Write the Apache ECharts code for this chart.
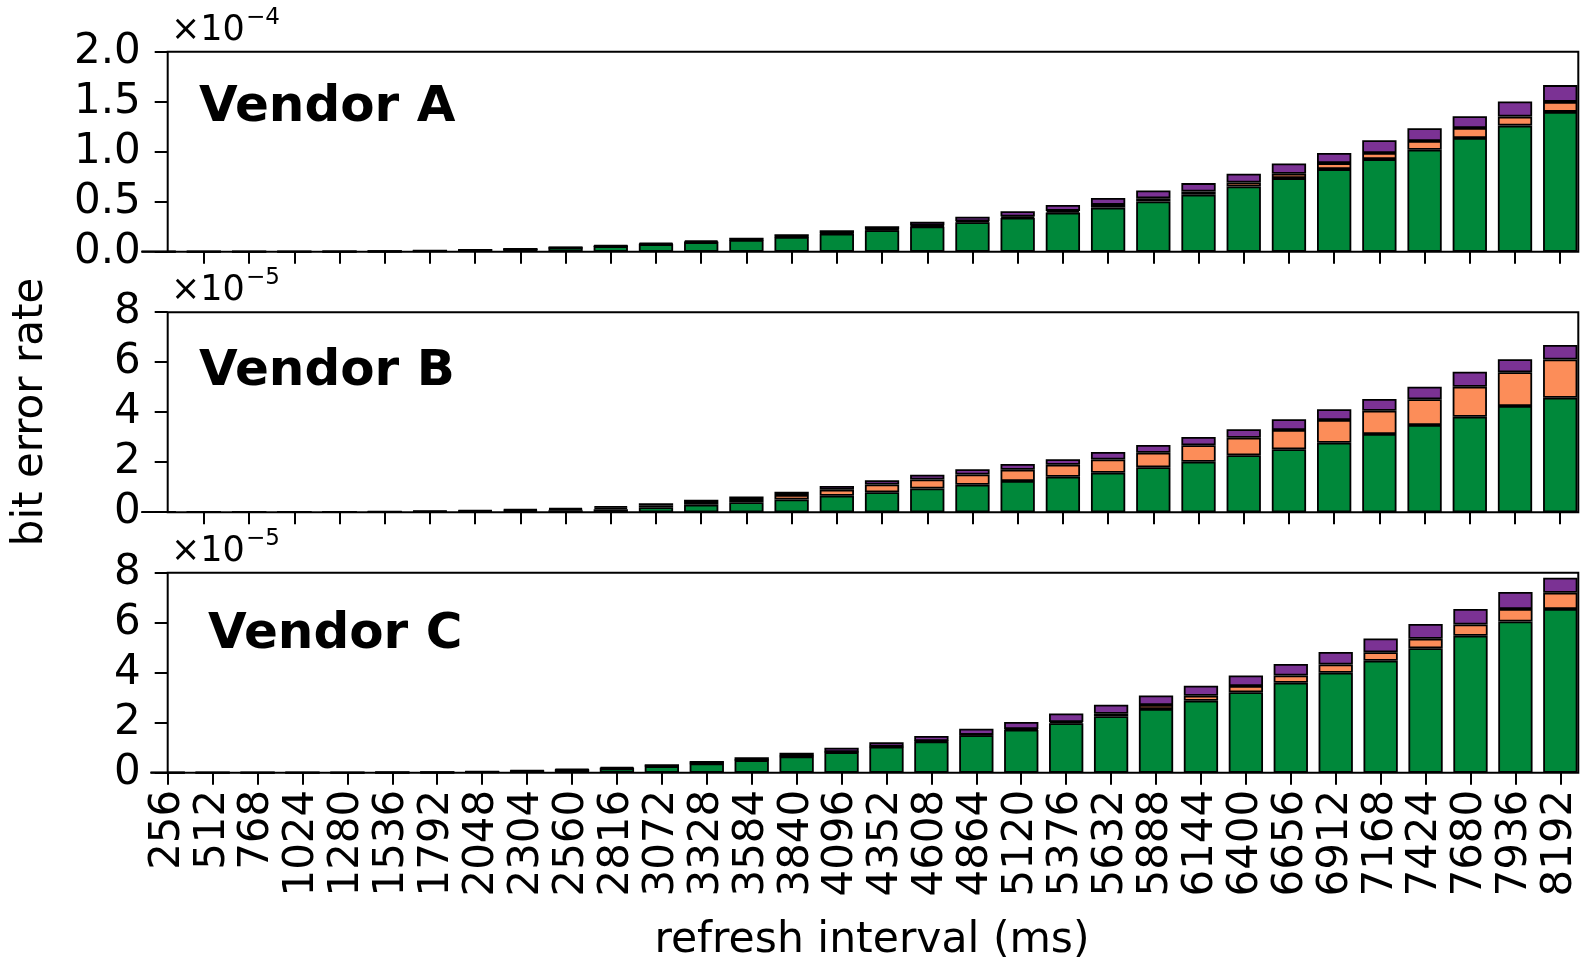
<!DOCTYPE html>
<html>
<head>
<meta charset="utf-8">
<script src="https://cdn.jsdelivr.net/npm/echarts@6/dist/echarts.min.js"></script>
<style>
  html, body { margin: 0; padding: 0; background: #fff; }
  #chart { width: 1583px; height: 961px; }
</style>
</head>
<body>
<div id="chart"></div>
<script>
// Refresh intervals (ms), one bar per interval
const categories = ['256','512','768','1024','1280','1536','1792','2048','2304','2560','2816','3072',
  '3328','3584','3840','4096','4352','4608','4864','5120','5376','5632','5888','6144',
  '6400','6656','6912','7168','7424','7680','7936','8192'];

// Vendor A bit error rate, in units of 1e-4
const vendorA_green  = [0.00003,0.0001,0.0003,0.0007,0.0017,0.0042,0.0085,0.016,0.026,0.040,0.056,0.074,
  0.095,0.118,0.148,0.181,0.215,0.253,0.295,0.340,0.391,0.441,0.502,0.569,0.652,0.736,0.826,0.926,1.020,1.137,1.261,1.398];
const vendorA_orange = [0,0,0,0,0,0.0001,0.0002,0.0004,0.0007,0.001,0.001,0.002,
  0.003,0.003,0.004,0.005,0.006,0.008,0.010,0.012,0.017,0.027,0.033,0.033,0.040,0.043,0.060,0.061,0.087,0.100,0.090,0.100];
const vendorA_purple = [0,0,0,0.0001,0.0003,0.0007,0.0013,0.0026,0.0043,0.006,0.009,0.012,
  0.015,0.019,0.023,0.029,0.034,0.039,0.045,0.053,0.060,0.070,0.077,0.084,0.087,0.104,0.101,0.127,0.127,0.118,0.151,0.168];

// Vendor B bit error rate, in units of 1e-5
const vendorB_green  = [0.001,0.002,0.003,0.005,0.008,0.012,0.02,0.03,0.05,0.08,0.12,0.20,
  0.30,0.40,0.51,0.66,0.80,0.95,1.10,1.25,1.42,1.58,1.80,2.02,2.28,2.52,2.78,3.13,3.49,3.82,4.25,4.58];
const vendorB_orange = [0,0,0.001,0.002,0.003,0.005,0.01,0.02,0.03,0.04,0.06,0.08,
  0.11,0.13,0.18,0.24,0.31,0.36,0.41,0.45,0.48,0.53,0.58,0.66,0.70,0.77,0.91,0.93,1.03,1.20,1.35,1.53];
const vendorB_purple = [0,0.001,0.001,0.002,0.004,0.008,0.02,0.03,0.04,0.05,0.06,0.08,
  0.09,0.10,0.13,0.15,0.17,0.19,0.21,0.23,0.22,0.30,0.31,0.33,0.34,0.43,0.43,0.47,0.50,0.60,0.52,0.58];

// Vendor C bit error rate, in units of 1e-5
const vendorC_green  = [0.0005,0.001,0.002,0.003,0.0035,0.007,0.014,0.032,0.065,0.11,0.17,0.26,
  0.37,0.50,0.65,0.82,1.04,1.25,1.50,1.72,1.98,2.26,2.55,2.88,3.22,3.60,4.00,4.48,4.98,5.48,6.05,6.55];
const vendorC_orange = [0,0,0,0,0,0.0003,0.0005,0.001,0.001,0.002,0.003,0.004,
  0.005,0.005,0.01,0.01,0.01,0.02,0.02,0.03,0.05,0.10,0.16,0.20,0.25,0.29,0.33,0.34,0.38,0.45,0.50,0.65];
const vendorC_purple = [0,0,0,0,0.0005,0.0027,0.0055,0.012,0.024,0.038,0.057,0.076,
  0.095,0.115,0.14,0.17,0.17,0.20,0.24,0.28,0.34,0.36,0.38,0.40,0.42,0.46,0.50,0.55,0.59,0.62,0.68,0.60];

// Panel titles, y tick values and exponent of the axis multiplier
const panelNames = ['Vendor A', 'Vendor B', 'Vendor C'];
const yTicksA = [0, 0.5, 1.0, 1.5, 2.0];
const yTicksBC = [0, 2, 4, 6, 8];
const exponents = ['\u22124', '\u22125', '\u22125'];

const COLORS = { green: '#00883a', orange: '#fc8d59', purple: '#7b3294' };
const FONT = '"DejaVu Sans", sans-serif';

const panels = [
  { name: panelNames[0], green: vendorA_green, orange: vendorA_orange, purple: vendorA_purple, ticks: yTicksA, digits: 1 },
  { name: panelNames[1], green: vendorB_green, orange: vendorB_orange, purple: vendorB_purple, ticks: yTicksBC, digits: 0 },
  { name: panelNames[2], green: vendorC_green, orange: vendorC_orange, purple: vendorC_purple, ticks: yTicksBC, digits: 0 }
];

const GRID_LEFT = 167.7, GRID_WIDTH = 1410.6, GRID_HEIGHT = 200;
const GRID_TOPS = [51.7, 312.2, 572.7];

const allIdx = categories.map((c, i) => i);

const grids = [], xAxes = [], yAxes = [], series = [];
panels.forEach((p, k) => {
  const isBottom = k === panels.length - 1;
  grids.push({
    left: GRID_LEFT, top: GRID_TOPS[k], width: GRID_WIDTH, height: GRID_HEIGHT,
    show: true, borderColor: '#000', borderWidth: 2, backgroundColor: 'transparent'
  });
  const tickVals = isBottom ? allIdx : allIdx.slice(1);
  xAxes.push({
    type: 'value', gridIndex: k,
    min: isBottom ? 0 : 0.2, max: 31.4,
    axisLine: { show: false },
    splitLine: { show: false },
    axisTick: { show: true, length: 12, lineStyle: { color: '#000', width: 2 }, customValues: tickVals },
    axisLabel: {
      show: isBottom, customValues: tickVals, rotate: 90, margin: 17,
      fontSize: 42, fontFamily: FONT, color: '#000',
      formatter: v => categories[Math.round(v)]
    }
  });
  const tmax = p.ticks[p.ticks.length - 1];
  yAxes.push({
    type: 'value', gridIndex: k, min: p.ticks[0], max: tmax,
    interval: p.ticks[1] - p.ticks[0],
    axisLine: { show: false },
    splitLine: { show: false },
    axisTick: { show: true, length: 13, lineStyle: { color: '#000', width: 2 } },
    axisLabel: {
      margin: 27, fontSize: 42, fontFamily: FONT, color: '#000',
      formatter: v => v.toFixed(p.digits)
    }
  });
  // value first, position second, so the stack is taken on the value dimension
  [['green', p.green], ['orange', p.orange], ['purple', p.purple]].forEach(([c, vals]) => {
    series.push({
      type: 'bar', xAxisIndex: k, yAxisIndex: k, stack: 'v' + k,
      encode: { x: 1, y: 0 },
      barWidth: 34.3, silent: true,
      itemStyle: { color: COLORS[c], borderColor: '#000', borderWidth: 1.8 },
      data: vals.map((v, i) => [v, i])
    });
  });
});

// Panel labels, axis multipliers and axis titles
const vendorPos = [[199, 108], [199, 372], [208, 635]];
const graphics = [];
panels.forEach((p, k) => {
  graphics.push({
    type: 'text', x: vendorPos[k][0], y: vendorPos[k][1], silent: true,
    style: { text: p.name, font: 'bold 50px ' + FONT, fill: '#000', align: 'left', verticalAlign: 'middle' }
  });
  const top = GRID_TOPS[k];
  graphics.push({
    type: 'text', x: 171, y: top - 21, silent: true,
    style: { text: '\u00d710', font: '35px ' + FONT, fill: '#000', align: 'left', verticalAlign: 'middle' }
  });
  graphics.push({
    type: 'text', x: 246, y: top - 34, silent: true,
    style: { text: exponents[k], font: '23px ' + FONT, fill: '#000', align: 'left', verticalAlign: 'middle' }
  });
});
graphics.push({
  type: 'text', x: 31, y: 412, rotation: Math.PI / 2, silent: true,
  style: { text: 'bit error rate', font: '42px ' + FONT, fill: '#000', align: 'center', verticalAlign: 'middle' }
});
graphics.push({
  type: 'text', x: 872, y: 941, silent: true,
  style: { text: 'refresh interval (ms)', font: '42.5px ' + FONT, fill: '#000', align: 'center', verticalAlign: 'middle' }
});

const chart = echarts.init(document.getElementById('chart'), null, { renderer: 'canvas' });
chart.setOption({
  animation: false,
  backgroundColor: '#fff',
  grid: grids,
  xAxis: xAxes,
  yAxis: yAxes,
  series: series,
  graphic: graphics
});
</script>
</body>
</html>
